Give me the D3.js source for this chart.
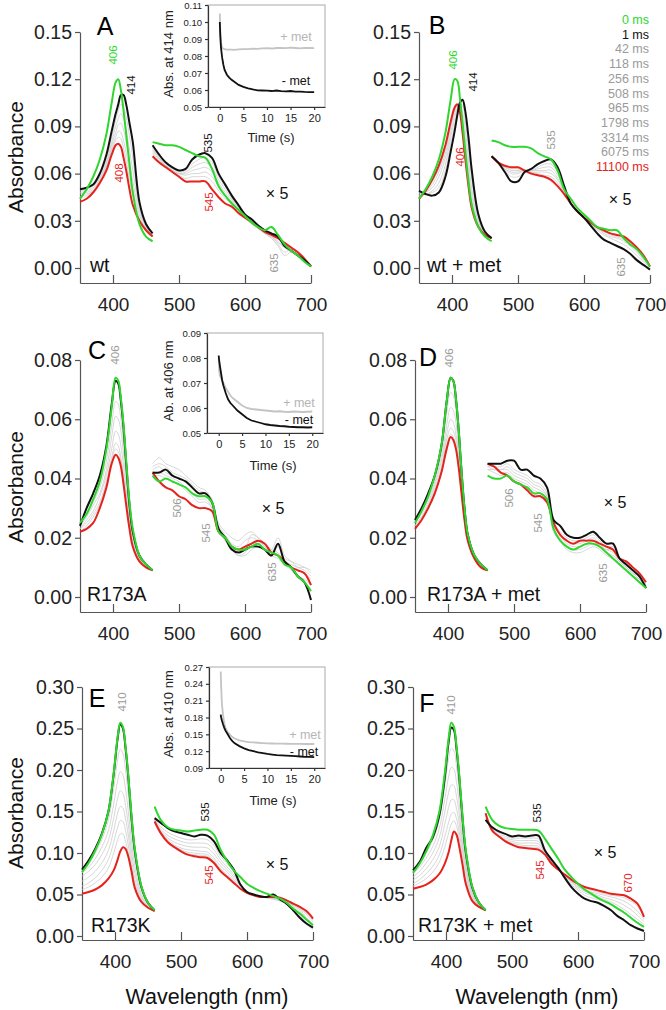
<!DOCTYPE html>
<html>
<head>
<meta charset="utf-8">
<script src="https://cdn.jsdelivr.net/npm/d3@7"></script>
<style>
  body { margin: 0; background: #fff; }
  text { font-family: "Liberation Sans", Arial, sans-serif; }
</style>
</head>
<body>
<svg id="chart" width="666" height="1010"></svg>
<script>
/**
 * Data (absorbance, visible part already x5)
 */

const wlSoret = [350, 360, 370, 380, 390, 398, 404, 408, 412, 416, 420, 425, 430, 440, 450, 460];
const wlVis = [460, 470, 480, 490, 500, 510, 520, 530, 540, 550, 560, 570, 580, 590, 600,
  610, 620, 630, 640, 650, 660, 670, 680, 690, 700];

const xTicks = [400, 500, 600, 700];
const yTicksAB = [0, 0.03, 0.06, 0.09, 0.12, 0.15];
const yTicksCD = [0, 0.02, 0.04, 0.06, 0.08];
const yTicksEF = [0, 0.05, 0.10, 0.15, 0.20, 0.25, 0.30];

const legendTimes = ['0 ms', '1 ms', '42 ms', '118 ms', '256 ms', '508 ms', '965 ms',
  '1798 ms', '3314 ms', '6075 ms', '11100 ms'];

// A: wt
const aGreenS = [.044, .050, .058, .069, .085, .105, .118, .120, .113, .100, .085, .066, .048, .028, .020, .017];
const aBlackS = [.050, .051, .053, .060, .072, .087, .098, .104, .110, .110, .104, .092, .080, .042, .028, .022];
const aRedS = [.042, .044, .048, .054, .062, .072, .078, .079, .077, .070, .062, .050, .040, .030, .024, .020];
const aGrayS = [
  [.049, .050, .052, .058, .069, .083, .094, .100, .104, .102, .096, .084, .070, .040, .027, .022],
  [.048, .049, .051, .057, .067, .080, .090, .095, .098, .095, .088, .075, .062, .038, .026, .021],
  [.047, .048, .050, .056, .066, .078, .086, .091, .092, .088, .080, .068, .055, .036, .026, .021],
  [.045, .047, .049, .055, .064, .076, .083, .087, .086, .081, .073, .061, .050, .034, .025, .021],
  [.044, .046, .049, .055, .064, .075, .081, .083, .082, .076, .068, .056, .046, .032, .025, .020],
];
const aGreenV = [.080, .079, .078, .078, .077, .075, .073, .071, .070, .063, .052, .046, .041, .037, .033,
  .029, .026, .024, .026, .021, .015, .011, .008, .004, .001];
const aBlackV = [.078, .072, .067, .064, .062, .063, .069, .072, .073, .070, .060, .053, .046, .040, .034,
  .031, .027, .024, .022, .020, .014, .011, .008, .005, .001];
const aRedV = [.071, .067, .064, .061, .058, .055, .055, .055, .055, .050, .045, .041, .039, .035, .032,
  .029, .026, .023, .021, .019, .016, .013, .010, .006, .001];
const aGrayV = [
  [.077, .071, .066, .063, .061, .062, .066, .069, .070, .067, .058, .052, .045, .039, .034, .030, .027, .024, .021, .019, .016, .012, .008, .005, .001],
  [.076, .070, .065, .062, .060, .061, .064, .066, .067, .064, .056, .050, .044, .038, .033, .030, .026, .023, .020, .017, .013, .010, .009, .006, .002],
  [.075, .070, .065, .062, .060, .060, .062, .063, .064, .061, .054, .048, .043, .037, .033, .029, .026, .022, .019, .015, .010, .012, .010, .006, .002],
  [.074, .069, .065, .062, .060, .059, .060, .060, .061, .058, .052, .046, .042, .036, .032, .029, .025, .022, .019, .014, .008, .010, .008, .005, .002],
  [.073, .068, .065, .062, .059, .057, .058, .058, .058, .055, .049, .044, .041, .036, .032, .028, .025, .022, .020, .016, .013, .011, .008, .005, .001],
];

// B: wt + met
const bGreenS = [.044, .050, .058, .069, .086, .107, .120, .119, .108, .092, .075, .055, .040, .026, .020, .017];
const bBlackS = [.049, .047, .046, .048, .058, .074, .087, .097, .105, .107, .100, .083, .062, .034, .023, .019];
const bRedS = [.044, .049, .056, .065, .078, .093, .102, .104, .099, .086, .070, .052, .038, .026, .021, .019];
const bGrayS = [
  [.048, .047, .048, .051, .062, .079, .091, .099, .104, .103, .094, .076, .056, .032, .023, .019],
  [.047, .047, .049, .054, .066, .083, .095, .101, .103, .099, .088, .069, .050, .030, .022, .019],
  [.046, .048, .051, .058, .070, .086, .098, .102, .102, .095, .082, .063, .046, .029, .022, .019],
  [.045, .048, .053, .061, .073, .089, .100, .103, .101, .091, .077, .058, .042, .028, .021, .019],
  [.044, .049, .055, .063, .076, .091, .101, .104, .100, .089, .073, .055, .040, .027, .021, .019],
];
const bGreenV = [.081, .080, .078, .077, .077, .077, .076, .073, .071, .069, .062, .050, .044, .038, .034,
  .030, .026, .025, .024, .024, .019, .015, .012, .007, .001];
const bBlackV = [.071, .067, .061, .055, .055, .061, .063, .066, .068, .069, .064, .052, .041, .036, .032,
  .027, .022, .018, .016, .014, .012, .009, .005, .002, -.001];
const bRedV = [.071, .067, .065, .064, .064, .062, .060, .059, .058, .056, .052, .047, .041, .036, .032,
  .029, .026, .024, .022, .021, .020, .017, .013, .008, .001];
const bGrayV = [
  [.071, .067, .062, .058, .058, .061, .062, .064, .066, .066, .061, .051, .041, .036, .032, .028, .024, .021, .019, .017, .015, .012, .008, .004, .000],
  [.071, .067, .063, .060, .060, .062, .062, .063, .064, .064, .059, .050, .041, .036, .032, .028, .025, .022, .020, .019, .017, .014, .010, .005, .001],
  [.071, .067, .063, .061, .061, .062, .062, .062, .062, .062, .057, .049, .041, .036, .032, .028, .025, .023, .021, .020, .018, .015, .011, .006, .001],
  [.071, .067, .064, .062, .062, .062, .061, .061, .061, .060, .056, .048, .041, .036, .032, .029, .026, .023, .022, .021, .019, .016, .012, .007, .001],
  [.071, .067, .064, .063, .063, .062, .061, .060, .059, .058, .054, .048, .041, .036, .032, .029, .026, .024, .022, .021, .020, .017, .013, .008, .001],
];

// C: R173A
const cGreenS = [.025, .028, .033, .039, .050, .064, .074, .073, .067, .058, .046, .032, .023, .014, .011, .009];
const cBlackS = [.024, .030, .035, .041, .051, .065, .073, .072, .066, .057, .045, .031, .022, .014, .011, .009];
const cRedS = [.022, .023, .025, .030, .037, .045, .048, .047, .044, .038, .031, .023, .017, .012, .010, .009];
const cGrayS = [
  [.024, .028, .032, .037, .046, .058, .066, .065, .060, .052, .042, .029, .021, .013, .010, .009],
  [.024, .027, .031, .035, .043, .054, .061, .060, .056, .048, .039, .028, .020, .013, .010, .009],
  [.023, .026, .029, .034, .041, .050, .056, .055, .051, .044, .036, .026, .019, .013, .010, .009],
  [.023, .025, .028, .032, .039, .047, .052, .051, .047, .041, .034, .025, .018, .012, .010, .009],
  [.022, .024, .027, .031, .038, .046, .050, .049, .046, .040, .032, .024, .018, .012, .010, .009],
];
const cGreenV = [.041, .039, .040, .039, .038, .037, .035, .034, .034, .032, .022, .020, .017, .016, .016,
  .017, .018, .016, .015, .014, .011, .010, .007, .005, .002];
const cBlackV = [.042, .042, .043, .041, .040, .039, .037, .035, .035, .032, .023, .020, .016, .015, .016,
  .017, .017, .016, .014, .018, .012, .010, .007, .005, -.001];
const cRedV = [.042, .039, .037, .036, .034, .033, .031, .030, .030, .029, .022, .020, .017, .016, .017,
  .018, .019, .018, .015, .014, .012, .010, .009, .008, .004];
const cGrayV = [
  [.045, .047, .045, .044, .043, .041, .039, .037, .036, .033, .025, .022, .020, .019, .021, .022, .020, .018, .016, .020, .014, .012, .010, .009, .007],
  [.044, .045, .044, .042, .041, .040, .038, .036, .035, .032, .024, .021, .018, .017, .019, .020, .019, .017, .015, .017, .013, .012, .011, .010, .008],
  [.043, .044, .042, .041, .040, .039, .037, .035, .034, .031, .023, .020, .017, .015, .016, .021, .020, .018, .016, .015, .012, .011, .010, .010, .009],
  [.042, .042, .041, .040, .039, .037, .035, .033, .033, .030, .023, .019, .016, .014, .015, .018, .019, .017, .015, .014, .012, .010, .009, .008, .006],
  [.041, .041, .040, .039, .038, .036, .034, .032, .032, .030, .022, .019, .016, .014, .014, .016, .017, .016, .014, .013, .011, .009, .007, .006, .004],
];

// D: R173A + met
const dGreenS = [.025, .029, .034, .041, .051, .066, .074, .073, .067, .057, .044, .030, .021, .014, .011, .009];
const dBlackS = [.026, .030, .035, .041, .051, .066, .074, .073, .067, .057, .044, .030, .021, .014, .011, .009];
const dRedS = [.023, .026, .030, .035, .042, .050, .054, .053, .050, .044, .036, .026, .019, .013, .010, .009];
const dGrayS = [
  [.025, .029, .033, .039, .048, .062, .069, .068, .063, .053, .041, .029, .020, .014, .011, .009],
  [.025, .028, .032, .038, .046, .058, .064, .063, .059, .050, .040, .028, .020, .013, .010, .009],
  [.024, .027, .031, .037, .044, .055, .060, .059, .055, .048, .038, .027, .019, .013, .010, .009],
  [.024, .027, .031, .036, .043, .053, .057, .056, .053, .046, .037, .026, .019, .013, .010, .009],
  [.023, .026, .030, .035, .042, .051, .055, .054, .051, .045, .036, .026, .019, .013, .010, .009],
];
const dGreenV = [.041, .040, .040, .041, .039, .038, .037, .035, .035, .033, .023, .019, .017, .016, .017,
  .018, .018, .017, .015, .013, .011, .009, .007, .005, .003];
const dBlackV = [.045, .045, .045, .046, .046, .043, .043, .041, .040, .037, .026, .024, .021, .020, .020,
  .021, .022, .020, .018, .018, .013, .011, .009, .007, .003];
const dRedV = [.045, .044, .042, .041, .039, .038, .036, .034, .034, .032, .025, .021, .019, .018, .019,
  .019, .019, .018, .017, .016, .013, .012, .010, .008, .005];
const dGrayV = [
  [.045, .044, .044, .045, .043, .042, .041, .039, .038, .035, .025, .022, .020, .019, .019, .020, .021, .019, .017, .017, .013, .011, .009, .007, .004],
  [.044, .044, .043, .044, .042, .041, .040, .038, .037, .034, .024, .021, .019, .018, .018, .019, .020, .018, .016, .016, .013, .011, .009, .007, .004],
  [.044, .043, .043, .043, .041, .040, .039, .037, .036, .034, .024, .021, .018, .017, .017, .018, .019, .017, .016, .015, .012, .010, .008, .007, .004],
  [.043, .043, .042, .042, .040, .039, .038, .036, .035, .033, .023, .020, .017, .016, .016, .017, .018, .017, .015, .014, .012, .010, .008, .006, .003],
  [.043, .042, .041, .041, .039, .038, .037, .035, .035, .033, .022, .019, .016, .015, .015, .016, .017, .016, .014, .013, .011, .009, .007, .006, .003],
];

// E: R173K
const eGreenS = [.077, .088, .103, .122, .150, .196, .240, .257, .252, .228, .195, .145, .105, .060, .040, .031];
const eBlackS = [.080, .091, .105, .123, .150, .195, .238, .255, .250, .226, .193, .143, .103, .059, .040, .031];
const eRedS = [.051, .053, .056, .061, .069, .079, .092, .102, .107, .105, .096, .078, .058, .041, .034, .030];
const eGrayS = [
  [.079, .088, .100, .116, .140, .178, .212, .225, .220, .200, .171, .128, .093, .055, .038, .030],
  [.076, .083, .093, .107, .127, .159, .187, .198, .194, .177, .151, .114, .084, .051, .037, .030],
  [.072, .078, .086, .098, .115, .142, .166, .175, .172, .157, .135, .102, .076, .048, .036, .030],
  [.066, .071, .078, .088, .103, .127, .148, .156, .154, .141, .122, .093, .069, .046, .035, .030],
  [.060, .064, .070, .079, .092, .113, .131, .139, .138, .127, .110, .085, .064, .044, .034, .030],
  [.056, .059, .064, .071, .082, .100, .116, .123, .123, .114, .101, .080, .060, .042, .034, .030],
];
const eGreenV = [.156, .139, .131, .128, .127, .126, .127, .128, .128, .122, .104, .090, .079, .071, .063,
  .058, .054, .051, .048, .045, .040, .033, .027, .020, .013];
const eBlackV = [.142, .136, .130, .126, .124, .122, .120, .122, .121, .114, .100, .091, .080, .062, .053,
  .050, .048, .047, .050, .044, .039, .031, .022, .015, .010];
const eRedV = [.138, .123, .113, .107, .102, .098, .096, .095, .094, .088, .078, .071, .064, .057, .052,
  .049, .047, .047, .047, .046, .043, .039, .035, .030, .021];
const eGrayV = [
  [.141, .131, .125, .121, .118, .116, .116, .117, .116, .109, .096, .087, .077, .062, .054, .050, .048, .046, .044, .042, .038, .030, .024, .016, .010],
  [.140, .128, .121, .117, .114, .112, .112, .112, .111, .104, .092, .083, .074, .061, .053, .049, .047, .046, .045, .043, .040, .033, .026, .014, .008],
  [.140, .126, .118, .113, .110, .108, .107, .107, .106, .099, .088, .080, .071, .060, .053, .049, .048, .047, .046, .046, .042, .036, .030, .019, .012],
  [.139, .125, .116, .110, .106, .104, .103, .102, .101, .094, .084, .077, .068, .059, .052, .049, .047, .046, .045, .044, .041, .037, .032, .022, .014],
  [.139, .124, .114, .108, .104, .101, .100, .099, .098, .091, .081, .074, .066, .058, .052, .049, .047, .047, .046, .045, .042, .038, .033, .026, .017],
  [.138, .123, .113, .107, .103, .099, .098, .097, .096, .089, .079, .072, .065, .057, .052, .049, .047, .047, .047, .046, .043, .039, .034, .028, .019],
];

// F: R173K + met
const fGreenS = [.076, .087, .102, .121, .150, .195, .238, .257, .252, .228, .195, .144, .103, .059, .040, .031];
const fBlackS = [.079, .089, .106, .119, .146, .190, .234, .251, .248, .225, .192, .142, .101, .058, .040, .031];
const fRedS = [.057, .059, .062, .067, .075, .087, .101, .115, .126, .122, .108, .086, .063, .042, .035, .031];
const fGrayS = [
  [.078, .087, .100, .116, .141, .180, .214, .226, .223, .204, .175, .131, .094, .055, .038, .031],
  [.075, .083, .094, .108, .130, .164, .192, .203, .201, .185, .160, .121, .088, .052, .037, .031],
  [.071, .078, .088, .100, .119, .149, .173, .182, .181, .168, .147, .112, .083, .050, .037, .031],
  [.067, .073, .081, .092, .108, .134, .155, .164, .164, .153, .136, .105, .079, .048, .036, .031],
  [.063, .068, .075, .084, .098, .119, .137, .147, .149, .141, .126, .099, .074, .046, .036, .031],
  [.060, .064, .069, .077, .089, .107, .124, .135, .139, .132, .118, .093, .069, .044, .035, .031],
];
const fGreenV = [.156, .140, .133, .130, .129, .128, .128, .128, .127, .117, .105, .093, .080, .071, .063,
  .056, .051, .046, .042, .038, .033, .028, .022, .016, .011];
const fBlackV = [.140, .131, .126, .123, .120, .121, .120, .121, .121, .103, .092, .082, .070, .059, .051,
  .045, .042, .040, .036, .031, .024, .019, .013, .009, .006];
const fRedV = [.148, .127, .120, .114, .110, .107, .106, .105, .104, .098, .087, .080, .074, .068, .063,
  .059, .057, .055, .053, .051, .050, .049, .045, .039, .023];
const fGrayV = [
  [.140, .130, .124, .120, .118, .118, .118, .118, .117, .101, .091, .082, .072, .062, .055, .049, .046, .044, .041, .038, .033, .028, .022, .016, .011],
  [.141, .129, .122, .118, .116, .115, .115, .115, .114, .100, .090, .081, .073, .064, .057, .052, .049, .047, .044, .041, .037, .032, .026, .020, .014],
  [.142, .128, .121, .116, .114, .112, .112, .112, .111, .100, .089, .081, .073, .065, .059, .054, .051, .049, .046, .044, .041, .037, .032, .025, .017],
  [.143, .128, .120, .115, .112, .110, .109, .109, .108, .099, .088, .081, .074, .066, .060, .056, .053, .051, .049, .047, .045, .042, .037, .030, .020],
  [.145, .128, .120, .115, .111, .108, .107, .107, .106, .098, .088, .080, .074, .067, .062, .058, .055, .053, .051, .049, .048, .046, .042, .036, .022],
];

// insets: absorbance at the Soret maximum vs time
const insetTime = [0, 0.1, 0.25, 0.5, 0.75, 1, 1.5, 2, 2.5, 3, 4, 5, 6, 7, 8, 9, 10,
  11, 12, 13, 14, 15, 16, 17, 18, 19, 20];
const aPlusMet = [.105, .095, .088, .0848, .0843, .084, .0838, .0837, .0838, .0836, .0839, .084, .0841, .0843,
  .0842, .0845, .0846, .0844, .0847, .0848, .0846, .0849, .0847, .0845, .0848, .0847, .0846];
const aMinusMet = [.100, .092, .085, .079, .075, .072, .069, .0673, .066, .065, .063, .0618, .061, .0603,
  .0598, .0597, .0596, .0594, .0597, .0593, .0592, .0594, .059, .0591, .0589, .0588, .0587];
const cPlusMet = [.080, .075, .073, .072, .071, .070, .068, .0665, .065, .064, .0625, .061, .060, .0596,
  .0594, .0592, .059, .0588, .0586, .0587, .0585, .0584, .0586, .0585, .0584, .0585, .0586];
const cMinusMet = [.081, .079, .077, .074, .071, .069, .066, .0635, .062, .061, .059, .0575, .056, .055,
  .0545, .054, .0535, .0532, .053, .0528, .0527, .0525, .0524, .0523, .0523, .0522, .0523];
const ePlusMet = [.262, .235, .205, .185, .170, .162, .154, .149, .145, .1425, .139, .1375, .136, .1355,
  .135, .1345, .134, .1337, .1335, .1333, .1332, .133, .133, .133, .1328, .1328, .1328];
const eMinusMet = [.185, .180, .175, .168, .162, .157, .150, .143, .138, .134, .129, .125, .122, .120,
  .118, .1165, .115, .114, .113, .1125, .112, .1115, .111, .1105, .110, .1098, .1095];
const insetXTicks = [0, 5, 10, 15, 20];
const insetYTicksA = [0.05, 0.06, 0.07, 0.08, 0.09, 0.10, 0.11];
const insetYTicksC = [0.05, 0.06, 0.07, 0.08, 0.09];
const insetYTicksE = [0.09, 0.12, 0.15, 0.18, 0.21, 0.24, 0.27];

/**
 * Drawing
 */

const GREEN = '#2ed62e';
const RED = '#e5221c';
const BLACK = '#111';
const GRAY = '#cdcdcd';
const LABEL_GRAY = '#9a9a9a';
const AXIS = '#555';

const svg = d3.select('#chart');

const panels = [
  { id: 'A', x0: 80, x1: 311, yTop: 32, yZero: 268, yAxis: 283, yMax: 0.15, yTicks: yTicksAB,
    s: [aGreenS, aBlackS, aRedS, aGrayS], v: [aGreenV, aBlackV, aRedV, aGrayV],
    letter: [105, 26], sample: 'wt', samplePos: [90, 272], x5: [277, 193],
    notes: [['406', 113, 55, GREEN], ['414', 131, 85, BLACK], ['408', 119, 173, RED],
      ['535', 208, 143, BLACK], ['545', 209, 202, RED], ['635', 274, 263, LABEL_GRAY]] },
  { id: 'B', x0: 419, x1: 650, yTop: 32, yZero: 268, yAxis: 283, yMax: 0.15, yTicks: yTicksAB,
    s: [bGreenS, bBlackS, bRedS, bGrayS], v: [bGreenV, bBlackV, bRedV, bGrayV],
    letter: [437, 25], sample: 'wt + met', samplePos: [427, 272], x5: [620, 199],
    notes: [['406', 453, 60, GREEN], ['414', 473, 82, BLACK], ['406', 460, 157, RED],
      ['535', 551, 140, LABEL_GRAY], ['635', 621, 267, LABEL_GRAY]] },
  { id: 'C', x0: 80, x1: 311, yTop: 360, yZero: 597, yAxis: 612, yMax: 0.08, yTicks: yTicksCD,
    s: [cGreenS, cBlackS, cRedS, cGrayS], v: [cGreenV, cBlackV, cRedV, cGrayV],
    letter: [97, 350], sample: 'R173A', samplePos: [87, 601], x5: [273, 508],
    notes: [['406', 115, 355, LABEL_GRAY], ['506', 177, 508, LABEL_GRAY],
      ['545', 206, 533, LABEL_GRAY], ['635', 272, 572, LABEL_GRAY]] },
  { id: 'D', x0: 415, x1: 646, yTop: 360, yZero: 597, yAxis: 612, yMax: 0.08, yTicks: yTicksCD,
    s: [dGreenS, dBlackS, dRedS, dGrayS], v: [dGreenV, dBlackV, dRedV, dGrayV],
    letter: [428, 357], sample: 'R173A + met', samplePos: [427, 601], x5: [615, 502],
    notes: [['406', 449, 358, LABEL_GRAY], ['506', 509, 498, LABEL_GRAY],
      ['545', 538, 523, LABEL_GRAY], ['635', 603, 573, LABEL_GRAY]] },
  { id: 'E', x0: 82, x1: 313, yTop: 687, yZero: 936, yAxis: 940, yMax: 0.30, yTicks: yTicksEF,
    s: [eGreenS, eBlackS, eRedS, eGrayS], v: [eGreenV, eBlackV, eRedV, eGrayV],
    letter: [97, 698], sample: 'R173K', samplePos: [91, 932], x5: [277, 864],
    notes: [['410', 122, 702, LABEL_GRAY], ['535', 205, 812, BLACK], ['545', 209, 875, RED]] },
  { id: 'F', x0: 413, x1: 644, yTop: 687, yZero: 936, yAxis: 940, yMax: 0.30, yTicks: yTicksEF,
    s: [fGreenS, fBlackS, fRedS, fGrayS], v: [fGreenV, fBlackV, fRedV, fGrayV],
    letter: [427, 703], sample: 'R173K + met', samplePos: [418, 932], x5: [605, 852],
    notes: [['410', 451, 705, LABEL_GRAY], ['535', 537, 813, BLACK], ['545', 540, 870, RED],
      ['670', 628, 883, RED]] },
];

const insets = [
  { left: 208, right: 325, top: 5, bottom: 107, yMin: 0.05, yMax: 0.11, yTicks: insetYTicksA,
    plus: aPlusMet, minus: aMinusMet, title: 'Abs. at 414 nm', titlePos: [168, 54],
    timePos: [271, 137], plusPos: [296, 37], minusPos: [296, 81] },
  { left: 207, right: 323, top: 333, bottom: 433, yMin: 0.05, yMax: 0.09, yTicks: insetYTicksC,
    plus: cPlusMet, minus: cMinusMet, title: 'Ab. at 406 nm', titlePos: [168, 381],
    timePos: [273, 465], plusPos: [299, 403], minusPos: [299, 420] },
  { left: 209, right: 325, top: 667, bottom: 768, yMin: 0.09, yMax: 0.27, yTicks: insetYTicksE,
    plus: ePlusMet, minus: eMinusMet, title: 'Abs. at 410 nm', titlePos: [168, 714],
    timePos: [273, 800], plusPos: [305, 735], minusPos: [304, 752] },
];

function styleAxis(sel, fontSize, color) {
  sel.selectAll('path, line').attr('stroke', color).attr('stroke-width', 1.2);
  sel.selectAll('text').attr('fill', '#222').style('font-size', `${fontSize}px`)
    .style('font-family', '"Liberation Sans", Arial, sans-serif');
}

function rotatedLabel(g, text, x, y, color, size) {
  g.append('text')
    .attr('transform', `translate(${x},${y}) rotate(-90)`)
    .attr('text-anchor', 'middle')
    .attr('dominant-baseline', 'central')
    .attr('fill', color)
    .style('font-size', `${size}px`)
    .text(text);
}

function drawPanel(p) {
  const g = svg.append('g').attr('class', `panel-${p.id}`);
  const x = d3.scaleLinear().domain([350, 700]).range([p.x0, p.x1]);
  const y = d3.scaleLinear().domain([0, p.yMax]).range([p.yZero, p.yTop]);
  // axis scale reaches down to the x axis line, below zero
  const yAx = d3.scaleLinear().domain([y.invert(p.yAxis), p.yMax]).range([p.yAxis, p.yTop]);

  g.append('g')
    .attr('transform', `translate(${p.x0},0)`)
    .call(d3.axisLeft(yAx).tickValues(p.yTicks).tickFormat(d3.format('.2f'))
      .tickSize(5).tickPadding(3).tickSizeOuter(0))
    .call(sel => styleAxis(sel, 19.5, AXIS));

  // x ticks point up, into the plot
  g.append('g')
    .attr('transform', `translate(0,${p.yAxis})`)
    .call(d3.axisBottom(x).tickValues(xTicks).tickFormat(d3.format('d'))
      .tickSize(-8).tickPadding(15).tickSizeOuter(0))
    .call(sel => styleAxis(sel, 19, AXIS));

  const soretLine = d3.line().x((d, i) => x(wlSoret[i])).y(d => y(d)).curve(d3.curveCatmullRom.alpha(0.5));
  const visLine = d3.line().x((d, i) => x(wlVis[i])).y(d => y(d)).curve(d3.curveCatmullRom.alpha(0.5));

  const [greenS, blackS, redS, grayS] = p.s;
  const [greenV, blackV, redV, grayV] = p.v;

  grayS.forEach((arr) => {
    g.append('path').attr('d', soretLine(arr)).attr('fill', 'none')
      .attr('stroke', GRAY).attr('stroke-width', 0.8);
  });
  grayV.forEach((arr) => {
    g.append('path').attr('d', visLine(arr)).attr('fill', 'none')
      .attr('stroke', GRAY).attr('stroke-width', 0.8);
  });

  [[redS, redV, RED], [blackS, blackV, BLACK], [greenS, greenV, GREEN]].forEach(([s, v, color]) => {
    g.append('path').attr('d', soretLine(s)).attr('fill', 'none')
      .attr('stroke', color).attr('stroke-width', 2);
    g.append('path').attr('d', visLine(v)).attr('fill', 'none')
      .attr('stroke', color).attr('stroke-width', 2);
  });

  p.notes.forEach(([t, nx, ny, c]) => rotatedLabel(g, t, nx, ny, c, 11.5));

  g.append('text').attr('x', p.x5[0]).attr('y', p.x5[1])
    .attr('text-anchor', 'middle').attr('dominant-baseline', 'central')
    .attr('fill', '#111').style('font-size', '16px').text('× 5');

  g.append('text').attr('x', p.letter[0]).attr('y', p.letter[1])
    .attr('text-anchor', 'middle').attr('dominant-baseline', 'central')
    .attr('fill', '#000').style('font-size', '25px').text(p.id);

  g.append('text').attr('x', p.samplePos[0]).attr('y', p.samplePos[1])
    .attr('fill', '#111').style('font-size', '19.5px').text(p.sample);
}

function drawInset(s) {
  const g = svg.append('g').attr('class', 'inset');
  const x = d3.scaleLinear().domain([-2.5, 22.3]).range([s.left, s.right]);
  const y = d3.scaleLinear().domain([s.yMin, s.yMax]).range([s.bottom, s.top]);

  g.append('rect').attr('x', s.left).attr('y', s.top)
    .attr('width', s.right - s.left).attr('height', s.bottom - s.top)
    .attr('fill', '#fff').attr('stroke', '#aaa').attr('stroke-width', 1);

  g.append('g')
    .attr('transform', `translate(${s.left},0)`)
    .call(d3.axisLeft(y).tickValues(s.yTicks).tickFormat(d3.format('.2f'))
      .tickSize(3).tickPadding(3).tickSizeOuter(0))
    .call(sel => styleAxis(sel, 9.5, '#333'));

  g.append('g')
    .attr('transform', `translate(0,${s.bottom})`)
    .call(d3.axisBottom(x).tickValues(insetXTicks).tickFormat(d3.format('d'))
      .tickSize(3).tickPadding(4).tickSizeOuter(0))
    .call(sel => styleAxis(sel, 11, '#333'));

  const line = d3.line().x((d, i) => x(insetTime[i])).y(d => y(d));
  g.append('path').attr('d', line(s.plus)).attr('fill', 'none')
    .attr('stroke', '#c4c4c4').attr('stroke-width', 1.8);
  g.append('path').attr('d', line(s.minus)).attr('fill', 'none')
    .attr('stroke', BLACK).attr('stroke-width', 1.8);

  rotatedLabel(g, s.title, s.titlePos[0], s.titlePos[1], '#222', 13);

  g.append('text').attr('x', s.timePos[0]).attr('y', s.timePos[1])
    .attr('text-anchor', 'middle').attr('dominant-baseline', 'central')
    .attr('fill', '#222').style('font-size', '13px').text('Time (s)');
  g.append('text').attr('x', s.plusPos[0]).attr('y', s.plusPos[1])
    .attr('text-anchor', 'middle').attr('dominant-baseline', 'central')
    .attr('fill', '#b5b5b5').style('font-size', '12.5px').text('+ met');
  g.append('text').attr('x', s.minusPos[0]).attr('y', s.minusPos[1])
    .attr('text-anchor', 'middle').attr('dominant-baseline', 'central')
    .attr('fill', '#111').style('font-size', '12.5px').text('- met');
}

panels.forEach(drawPanel);
insets.forEach(drawInset);

// shared axis titles
[157, 487, 813].forEach((cy) => rotatedLabel(svg, 'Absorbance', 15, cy, '#111', 21));
[207, 537].forEach((cx) => {
  svg.append('text').attr('x', cx).attr('y', 997)
    .attr('text-anchor', 'middle').attr('dominant-baseline', 'central')
    .attr('fill', '#111').style('font-size', '21.5px').text('Wavelength (nm)');
});

// legend of time points (panel B)
const legendColor = (i) => (i === 0 ? GREEN : i === 1 ? BLACK : i === legendTimes.length - 1 ? RED : LABEL_GRAY);
svg.append('g').selectAll('text')
  .data(legendTimes)
  .join('text')
  .attr('x', 649)
  .attr('y', (d, i) => 20 + i * 14.7)
  .attr('text-anchor', 'end')
  .attr('dominant-baseline', 'central')
  .attr('fill', (d, i) => legendColor(i))
  .style('font-size', '12.5px')
  .text(d => d);
</script>
</body>
</html>
